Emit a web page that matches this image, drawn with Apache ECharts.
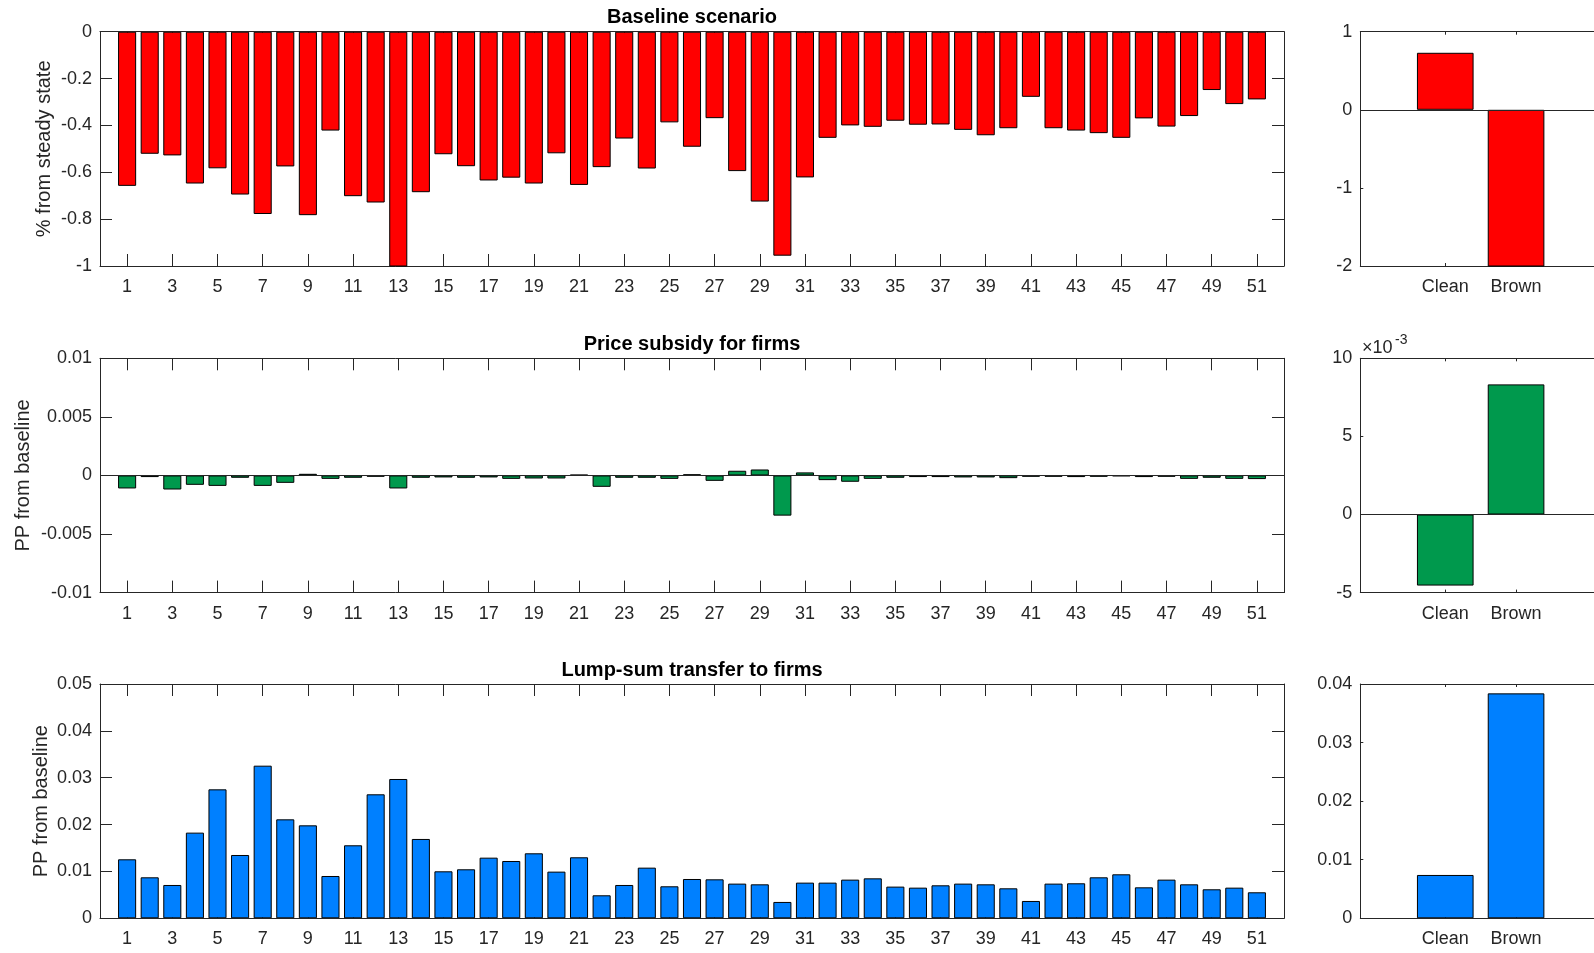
<!DOCTYPE html>
<html><head><meta charset="utf-8">
<script src="https://cdn.jsdelivr.net/npm/echarts@6/dist/echarts.min.js"></script>
<style>html,body{margin:0;padding:0;background:#fff}#c{width:1594px;height:953px}</style>
</head><body><div id="c"></div>
<script>
// ---------------- data ----------------
const periods = [1,2,3,4,5,6,7,8,9,10,11,12,13,14,15,16,17,18,19,20,21,22,23,24,25,26,27,28,29,30,31,32,33,34,35,36,37,38,39,40,41,42,43,44,45,46,47,48,49,50,51];
const periodTicks = [1,3,5,7,9,11,13,15,17,19,21,23,25,27,29,31,33,35,37,39,41,43,45,47,49,51];
const sectors = ['Clean', 'Brown'];
const sectorTicks = [1, 2];

const baselineBars = [-0.658,-0.521,-0.528,-0.648,-0.583,-0.695,-0.778,-0.575,-0.783,-0.422,
  -0.702,-0.729,-1.01,-0.685,-0.523,-0.574,-0.635,-0.623,-0.648,-0.519,
  -0.654,-0.578,-0.456,-0.584,-0.387,-0.491,-0.369,-0.595,-0.725,-0.956,
  -0.622,-0.453,-0.400,-0.406,-0.380,-0.397,-0.396,-0.419,-0.442,-0.412,
  -0.278,-0.412,-0.422,-0.433,-0.453,-0.370,-0.405,-0.360,-0.249,-0.309,-0.289];
const subsidyBars = [-0.00111,-0.00014,-0.00120,-0.00080,-0.00089,-0.00020,-0.00089,-0.00063,0.00014,-0.00029,
  -0.00020,-0.00011,-0.00111,-0.00020,-0.00017,-0.00020,-0.00017,-0.00029,-0.00026,-0.00026,
  0.00006,-0.00097,-0.00020,-0.00020,-0.00029,0.00010,-0.00046,0.00040,0.00051,-0.00343,
  0.00026,-0.00040,-0.00054,-0.00029,-0.00020,-0.00014,-0.00014,-0.00017,-0.00017,-0.00023,
  -0.00011,-0.00011,-0.00014,-0.00011,-0.00006,-0.00014,-0.00011,-0.00029,-0.00020,-0.00029,-0.00031];
const lumpBars = [0.01259,0.00875,0.00711,0.01828,0.02752,0.01351,0.03257,0.02112,0.01984,0.00903,
  0.01558,0.02646,0.02973,0.01693,0.01003,0.01046,0.01294,0.01223,0.01387,0.00996,
  0.01302,0.00491,0.00711,0.01081,0.00683,0.00839,0.00832,0.00740,0.00725,0.00349,
  0.00761,0.00761,0.00825,0.00853,0.00676,0.00654,0.00704,0.00740,0.00725,0.00640,
  0.00370,0.00740,0.00747,0.00875,0.00939,0.00661,0.00825,0.00725,0.00619,0.00654,0.00555];

const baselineSector = [0.73, -2.03];
const subsidySector = [-0.00455, 0.00833];
const lumpSector = [0.0074, 0.0384];

const titles = ['Baseline scenario', 'Price subsidy for firms', 'Lump-sum transfer to firms'];
const yNames = ['% from steady state', 'PP from baseline', 'PP from baseline'];

// ---------------- layout / style ----------------
const FONT = '"Liberation Sans", Arial, Helvetica, sans-serif';
const AX = '#262626';
const RED = '#FF0000', GREEN = '#00994D', BLUE = '#0080FF';
const W = 1594;
const rowTops = [31.7, 358.3, 684];
const rowH = 234.3;
const leftL = 100, leftW = 1184, leftMin = -0.2, leftMax = 52.2;
const rightL = 1360.3, rightSpacing = 70.8, rightMin = -0.2;
const rightW = W - rightL;                       // panel runs off the figure edge
const rightMax = rightMin + rightW / rightSpacing;
const leftBarW = 0.8 * leftW / (leftMax - leftMin);
const rightBarW = 0.8 * rightSpacing;
const nameGaps = [46, 67, 49];

const grids = [], xAxes = [], yAxes = [], series = [], titleOpts = [];

function addPanel(opt) {
  const g = grids.length;
  grids.push({left: opt.left, top: opt.top, width: opt.width, height: rowH, containLabel: false});
  const lineStyle = {color: AX, width: 1};
  const lbl = {fontSize: 18, color: AX, fontFamily: FONT};
  const xi = xAxes.length;
  ['bottom', 'top'].forEach((pos, k) => {
    xAxes.push({
      gridIndex: g, type: 'value', position: pos, min: opt.xMin, max: opt.xMax,
      axisLine: {show: true, onZero: false, lineStyle},
      axisTick: {show: true, inside: true, length: opt.tick, customValues: opt.xTicks, lineStyle},
      axisLabel: Object.assign({show: k === 0, margin: 12, customValues: opt.xTicks, formatter: opt.xFmt}, lbl),
      splitLine: {show: false}
    });
  });
  const yi = yAxes.length;
  ['left', 'right'].forEach((pos, k) => {
    const y = {
      gridIndex: g, type: 'value', position: pos, min: opt.yMin, max: opt.yMax, interval: opt.yInt,
      show: k === 0 || opt.mirrorY,
      axisLine: {show: true, onZero: false, lineStyle},
      axisTick: {show: true, inside: true, length: opt.tick, lineStyle},
      axisLabel: Object.assign({show: k === 0, margin: 8}, lbl),
      splitLine: {show: false}
    };
    if (k === 0 && opt.yFmt) y.axisLabel.formatter = opt.yFmt;
    if (k === 0 && opt.yName) {
      y.name = opt.yName; y.nameLocation = 'middle'; y.nameGap = opt.nameGap; y.nameRotate = 90;
      y.nameMoveOverlap = false;
      y.nameTextStyle = {fontSize: 20, color: AX, fontFamily: FONT};
    }
    yAxes.push(y);
  });
  series.push({
    type: 'bar', xAxisIndex: xi, yAxisIndex: yi, barWidth: opt.barW, clip: true,
    itemStyle: {color: opt.color, borderColor: '#000', borderWidth: 1},
    data: opt.data,
    markLine: {silent: true, symbol: 'none', animation: false, label: {show: false},
      lineStyle: {color: AX, width: 1, type: 'solid'}, data: [{yAxis: 0}]}
  });
}

const leftData = [baselineBars, subsidyBars, lumpBars];
const rightData = [baselineSector, subsidySector, lumpSector];
const colors = [RED, GREEN, BLUE];
const leftY = [[-1, 0, 0.2], [-0.01, 0.01, 0.005], [0, 0.05, 0.01]];
const rightY = [[-2, 1, 1], [-0.005, 0.01, 0.005], [0, 0.04, 0.01]];

for (let r = 0; r < 3; r++) {
  addPanel({
    left: leftL, top: rowTops[r], width: leftW, mirrorY: true,
    xMin: leftMin, xMax: leftMax, xTicks: periodTicks, xFmt: v => String(v), tick: 12,
    yMin: leftY[r][0], yMax: leftY[r][1], yInt: leftY[r][2],
    yFmt: null, yName: yNames[r], nameGap: nameGaps[r],
    barW: leftBarW, color: colors[r],
    data: periods.map((p, i) => [p, leftData[r][i]])
  });
  addPanel({
    left: rightL, top: rowTops[r], width: rightW, mirrorY: false,
    xMin: rightMin, xMax: rightMax, xTicks: sectorTicks, xFmt: v => sectors[Math.round(v) - 1] || '', tick: 3,
    yMin: rightY[r][0], yMax: rightY[r][1], yInt: rightY[r][2],
    yFmt: r === 1 ? (v => String(Math.round(v * 1000))) : null,
    barW: rightBarW, color: colors[r],
    data: sectorTicks.map((p, i) => [p, rightData[r][i]])
  });
  titleOpts.push({
    text: titles[r], left: leftL + leftW / 2, top: rowTops[r] - 24, textAlign: 'center', padding: 0,
    textStyle: {fontSize: 20, fontWeight: 'bold', color: '#000', fontFamily: FONT, lineHeight: 20}
  });
}

const chart = echarts.init(document.getElementById('c'), null, {renderer: 'canvas'});
chart.setOption({
  animation: false,
  backgroundColor: '#fff',
  title: titleOpts,
  grid: grids,
  xAxis: xAxes,
  yAxis: yAxes,
  series: series,
  graphic: [
    {type: 'text', left: 1362, top: 339, style: {text: '×10', fontSize: 18, fill: AX, fontFamily: FONT}},
    {type: 'text', left: 1395, top: 333, style: {text: '-3', fontSize: 14, fill: AX, fontFamily: FONT}}
  ]
});
</script></body></html>
